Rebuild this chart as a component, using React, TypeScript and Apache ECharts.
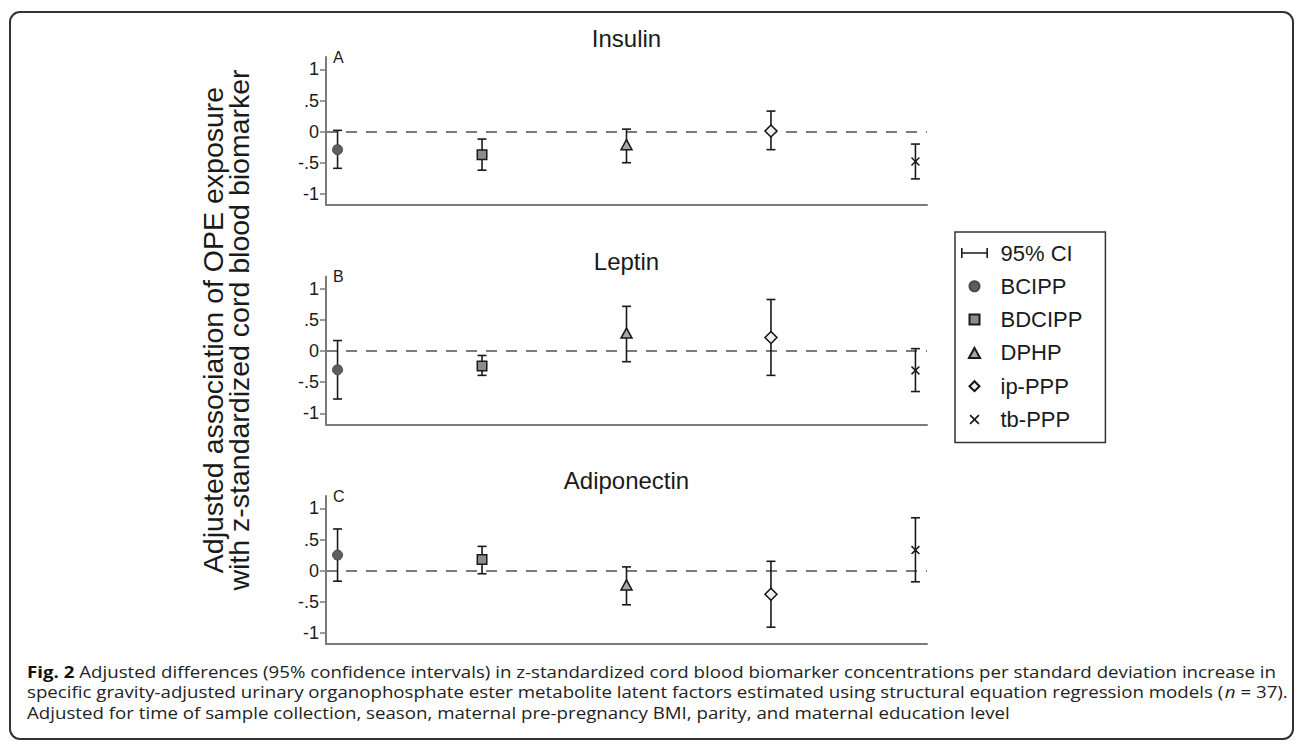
import React, { useEffect, useRef } from "react";
import * as echarts from "echarts";

// ---------- data ----------
const SUBSTANCES = ["BCIPP", "BDCIPP", "DPHP", "ip-PPP", "tb-PPP"];
const X_POSITIONS = [1, 2, 3, 4, 5];
const PANEL_TITLES = ["Insulin", "Leptin", "Adiponectin"];
const PANEL_LETTERS = ["A", "B", "C"];
const Y_TICK_VALUES = [-1, -0.5, 0, 0.5, 1];
const Y_TICK_LABELS = ["-1", "-.5", "0", ".5", "1"];
const CI_LABEL = "95% CI";

const INSULIN_EST = [-0.29, -0.37, -0.21, 0.01, -0.48];
const INSULIN_LOW = [-0.59, -0.62, -0.5, -0.29, -0.76];
const INSULIN_HIGH = [0.02, -0.12, 0.04, 0.33, -0.2];

const LEPTIN_EST = [-0.3, -0.24, 0.29, 0.22, -0.31];
const LEPTIN_LOW = [-0.77, -0.39, -0.17, -0.39, -0.65];
const LEPTIN_HIGH = [0.17, -0.07, 0.72, 0.83, 0.04];

const ADIPO_EST = [0.25, 0.18, -0.23, -0.38, 0.33];
const ADIPO_LOW = [-0.17, -0.05, -0.55, -0.91, -0.18];
const ADIPO_HIGH = [0.67, 0.39, 0.06, 0.15, 0.85];

const Y_LABEL_LINES = [
  "Adjusted association of OPE exposure",
  "with z-standardized cord blood biomarker",
];
const CAPTION_BOLD = "Fig. 2";
const CAPTION_LINE_1 =
  "Adjusted differences (95% confidence intervals) in z-standardized cord blood biomarker concentrations per standard deviation increase in";
const CAPTION_LINE_2A =
  "specific gravity-adjusted urinary organophosphate ester metabolite latent factors estimated using structural equation regression models (";
const CAPTION_LINE_2N = "n";
const CAPTION_LINE_2B = " = 37).";
const CAPTION_LINE_3 =
  "Adjusted for time of sample collection, season, maternal pre-pregnancy BMI, parity, and maternal education level";

// ---------- style / layout ----------
const ESTS = [INSULIN_EST, LEPTIN_EST, ADIPO_EST];
const LOWS = [INSULIN_LOW, LEPTIN_LOW, ADIPO_LOW];
const HIGHS = [INSULIN_HIGH, LEPTIN_HIGH, ADIPO_HIGH];

const FONT = "'Liberation Sans', Arial, sans-serif";
const GRID_LEFT = 326;
const GRID_RIGHT = 368;
const GRID_TOPS = [57, 276.5, 496];
const GRID_H = 148;
const TITLE_Y = [38, 261, 480];
const AXIS_GRAY = "#7a7a7a";
const INK = "#1a1a1a";

const X_PATH =
  "path://M0,1.2L1.2,0L5,3.8L8.8,0L10,1.2L6.2,5L10,8.8L8.8,10L5,6.2L1.2,10L0,8.8L3.8,5Z";
const CI_PATH =
  "path://M0,0h1.6v10h-1.6z M0,4.2h27v1.6h-27z M25.4,0h1.6v10h-1.6z";
const SQUARE_PATH = "path://M0,0h10v10h-10z";
const TRIANGLE_PATH = "path://M5,0L10,9L0,9Z";
const DIAMOND_PATH = "path://M5,0L10,5L5,10L0,5Z";

const MARKERS: Record<string, any> = {
  BCIPP: { symbol: "circle", icon: "circle", size: 10, color: "#5e5e5e", border: "#4a4a4a", bw: 1 },
  BDCIPP: { symbol: "rect", icon: SQUARE_PATH, size: 9.5, color: "#8c8c8c", border: "#1a1a1a", bw: 1.5 },
  DPHP: { symbol: "triangle", icon: TRIANGLE_PATH, size: [11, 10], color: "#a8a8a8", border: "#1a1a1a", bw: 1.5 },
  "ip-PPP": { symbol: "diamond", icon: DIAMOND_PATH, size: [12, 12], color: "#efefef", border: "#111", bw: 1.5 },
  "tb-PPP": { symbol: X_PATH, icon: X_PATH, size: 9, color: "#1a1a1a", border: "#1a1a1a", bw: 0 },
};

function buildOption() {
  const grids = GRID_TOPS.map((top) => ({
    left: GRID_LEFT,
    right: GRID_RIGHT,
    top,
    height: GRID_H,
    outerBoundsMode: "none",
  }));

  const xAxes = GRID_TOPS.map((_, p) => ({
    type: "value",
    gridIndex: p,
    min: 0.92,
    max: 5.08,
    axisLine: { show: true, onZero: false, lineStyle: { color: AXIS_GRAY, width: 2 } },
    axisTick: { show: false },
    axisLabel: { show: false },
    splitLine: { show: false },
  }));

  const yAxes = GRID_TOPS.map((_, p) => ({
    type: "value",
    gridIndex: p,
    min: -1.18,
    max: 1.2,
    name: `{n|${PANEL_LETTERS[p]}}`,
    nameLocation: "end",
    nameGap: 0,
    nameTextStyle: {
      fontFamily: FONT,
      fontSize: 16,
      color: INK,
      align: "left",
      verticalAlign: "middle",
      padding: [0, 0, 0, 7],
      rich: { n: { fontFamily: FONT, fontSize: 16, color: INK } },
    },
    axisLine: { show: true, onZero: false, lineStyle: { color: AXIS_GRAY, width: 2 } },
    axisTick: {
      show: true,
      length: 6,
      customValues: Y_TICK_VALUES,
      lineStyle: { color: AXIS_GRAY, width: 1.5 },
    },
    axisLabel: {
      show: true,
      margin: 7,
      customValues: Y_TICK_VALUES,
      fontFamily: FONT,
      fontSize: 18,
      color: INK,
      rich: { t: { fontFamily: FONT, fontSize: 18, color: INK } },
      formatter: (v: number) => {
        const i = Y_TICK_VALUES.findIndex((t) => Math.abs(t - v) < 1e-9);
        return i >= 0 ? `{t|${Y_TICK_LABELS[i]}}` : "";
      },
    },
    splitLine: { show: false },
  }));

  const series: any[] = [];
  GRID_TOPS.forEach((_, p) => {
    series.push({
      type: "custom",
      name: CI_LABEL,
      xAxisIndex: p,
      yAxisIndex: p,
      z: 2,
      itemStyle: { color: INK },
      data: X_POSITIONS.map((x, i) => [x, LOWS[p][i], HIGHS[p][i]]),
      encode: { x: 0, y: [1, 2] },
      renderItem: (params: any, api: any) => {
        const xv = api.value(0);
        const lo = api.coord([xv, api.value(1)]);
        const hi = api.coord([xv, api.value(2)]);
        const cap = 4.5;
        const style = { stroke: INK, lineWidth: 1.6, fill: null };
        return {
          type: "group",
          children: [
            { type: "line", shape: { x1: lo[0], y1: lo[1], x2: hi[0], y2: hi[1] }, style },
            { type: "line", shape: { x1: lo[0] - cap, y1: lo[1], x2: lo[0] + cap, y2: lo[1] }, style },
            { type: "line", shape: { x1: hi[0] - cap, y1: hi[1], x2: hi[0] + cap, y2: hi[1] }, style },
          ],
        };
      },
      markLine: {
        silent: true,
        symbol: "none",
        label: { show: false },
        lineStyle: { color: AXIS_GRAY, type: [11, 9], width: 2 },
        data: [{ yAxis: 0 }],
        z: 1,
      },
    });
    SUBSTANCES.forEach((name, i) => {
      const m = MARKERS[name];
      series.push({
        type: "scatter",
        name,
        xAxisIndex: p,
        yAxisIndex: p,
        z: 3,
        symbol: m.symbol,
        symbolSize: m.size,
        itemStyle: { color: m.color, borderColor: m.border, borderWidth: m.bw, opacity: 1 },
        data: [[X_POSITIONS[i], ESTS[p][i]]],
      });
    });
  });

  const graphics: any[] = [
    {
      type: "rect",
      shape: { x: 10, y: 12, width: 1283, height: 727, r: 10 },
      style: { fill: "none", stroke: "#333", lineWidth: 2 },
      silent: true,
    },
  ];
  PANEL_TITLES.forEach((t, p) => {
    graphics.push({
      type: "text",
      x: GRID_LEFT + (1295 - GRID_LEFT - GRID_RIGHT) / 2,
      y: TITLE_Y[p],
      style: {
        text: t,
        fontFamily: FONT,
        fontSize: 24,
        fill: INK,
        align: "center",
        verticalAlign: "middle",
      },
    });
  });
  [212.5, 238.5].forEach((x, k) => {
    graphics.push({
      type: "text",
      x,
      y: 330,
      rotation: Math.PI / 2,
      style: {
        text: Y_LABEL_LINES[k],
        fontFamily: FONT,
        fontSize: 28.5,
        fill: INK,
        align: "center",
        verticalAlign: "middle",
      },
    });
  });
  const capFont = "'Open Sans', 'Noto Sans', sans-serif";
  const capSize = 15.5;
  const capLines = [
    `{b|${CAPTION_BOLD}} ${CAPTION_LINE_1}`,
    `${CAPTION_LINE_2A}{i|${CAPTION_LINE_2N}}${CAPTION_LINE_2B}`,
    CAPTION_LINE_3,
  ];
  const capY = [672, 692.5, 713];
  capLines.forEach((t, k) => {
    graphics.push({
      type: "text",
      x: 27,
      y: capY[k],
      scaleX: 1.207,
      style: {
        text: t,
        fontFamily: capFont,
        fontSize: capSize,
        fill: "#222",
        align: "left",
        verticalAlign: "middle",
        rich: {
          b: { fontFamily: capFont, fontSize: capSize, fontWeight: "bold", fill: "#111" },
          i: { fontFamily: capFont, fontSize: capSize, fontStyle: "italic", fill: "#222" },
        },
      },
    });
  });

  return {
    animation: false,
    backgroundColor: "#ffffff",
    textStyle: { fontFamily: FONT },
    grid: grids,
    xAxis: xAxes,
    yAxis: yAxes,
    legend: {
      show: true,
      orient: "vertical",
      left: 955,
      top: 232,
      padding: [10, 23, 12, 6],
      itemGap: 11.3,
      itemWidth: 42,
      itemHeight: 10,
      borderColor: "#333",
      borderWidth: 1.5,
      selectedMode: false,
      textStyle: { fontFamily: FONT, fontSize: 22, color: INK, lineHeight: 22 },
      data: [
        { name: CI_LABEL, icon: CI_PATH, itemStyle: { color: INK, borderWidth: 0 } },
        ...SUBSTANCES.map((n) => ({ name: n, icon: MARKERS[n].icon })),
      ],
    },
    graphic: graphics,
    series,
  };
}

export default function App() {
  const ref = useRef<HTMLDivElement>(null);
  useEffect(() => {
    if (!ref.current) return;
    const chart = echarts.init(ref.current, null, { renderer: "svg" });
    chart.setOption(buildOption() as any);
    return () => chart.dispose();
  }, []);
  return (
    <div
      ref={ref}
      style={{ position: "absolute", left: 0, top: 0, width: 1295, height: 749, background: "#fff" }}
    />
  );
}
